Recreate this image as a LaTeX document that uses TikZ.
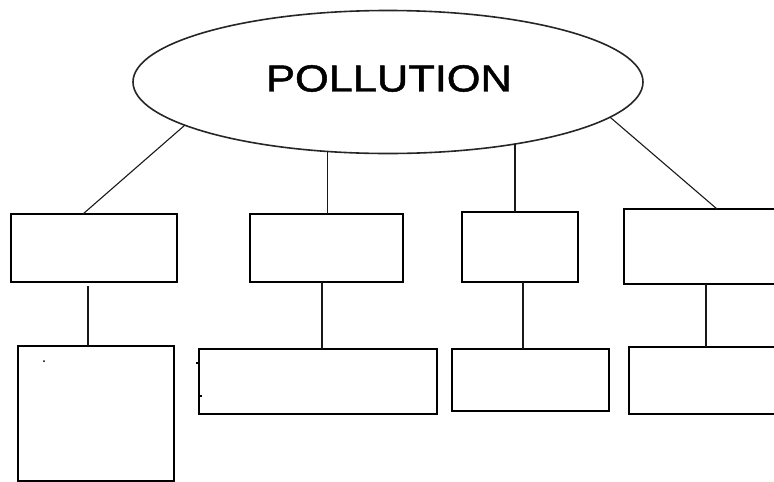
\documentclass[tikz,border=0pt]{standalone}
\usepackage{fontspec}
\usepackage{graphicx}
\setmainfont{Liberation Sans}
\newfontfamily\titlefont[FakeBold=1.2]{Liberation Sans}
\usetikzlibrary{shapes.geometric}
\begin{document}
\begin{tikzpicture}[x=1pt,y=-1pt,
  box/.style={draw=black, line width=2pt, rectangle, inner sep=0pt, outer sep=0pt, anchor=north west},
  oval/.style={draw=black!85, line width=1.6pt, ellipse, inner sep=0pt, outer sep=0pt},
  stem/.style={draw=black!90, line width=1.6pt},
  slant/.style={draw=black!90, line width=1.1pt},
  title/.style={font=\titlefont\fontsize{37.7pt}{40pt}\selectfont, inner sep=0pt}]
\useasboundingbox (0,0) rectangle (774,482);
\clip (0,0) rectangle (774,482);

% central topic
\node[oval, minimum width=510pt, minimum height=143pt] (E) at (388,82) {};
\node[title] (T) at (389,78.5) {\scalebox{1.15}[1]{POLLUTION}};

% first row of boxes
\node[box, minimum width=166pt, minimum height=68pt] (b1) at (11,214) {};
\node[box, minimum width=153pt, minimum height=68pt] (b2) at (250,214) {};
\node[box, minimum width=116pt, minimum height=70pt] (b3) at (462,212) {};
\node[box, minimum width=170pt, minimum height=75pt] (b4) at (624,209) {};

% second row of boxes
\node[box, minimum width=156pt, minimum height=135pt] (l1) at (18,346) {};
\node[box, minimum width=238pt, minimum height=65pt] (l2) at (199,349) {};
\node[box, minimum width=157pt, minimum height=62pt] (l3) at (452,349) {};
\node[box, minimum width=165pt, minimum height=67pt] (l4) at (629,347) {};

% free ends on the top edges of the outer boxes
\coordinate (c1) at ([xshift=-11pt]b1.north);
\coordinate (c4) at (717,209);

% branches from the topic
\draw[slant] (E.192.5) -- (c1);
\draw[stem] (E.229.9) -- (E.229.9 |- b2.north);
\draw[stem] (E.334.5) -- (E.334.5 |- b3.north);
\draw[slant] (E.351.7) -- (c4);

% links between the two rows
\coordinate (d1) at (88,286);
\draw[stem] (d1) -- (d1 |- l1.north);
\coordinate (d2) at (322,282);
\draw[stem] (d2) -- (d2 |- l2.north);
\coordinate (d3) at (523,282);
\draw[stem] (d3) -- (d3 |- l3.north);
\coordinate (d4) at (706,284);
\draw[stem] (d4) -- (d4 |- l4.north);

% small stray marks
\fill[black] (44,361) circle (1pt);
\draw[line width=1.3pt] (l2.north west) ++(0,14) -- ++(-3,0);
\draw[line width=1.3pt] (l2.north west) ++(0,47) -- ++(3,0);
\end{tikzpicture}
\end{document}
